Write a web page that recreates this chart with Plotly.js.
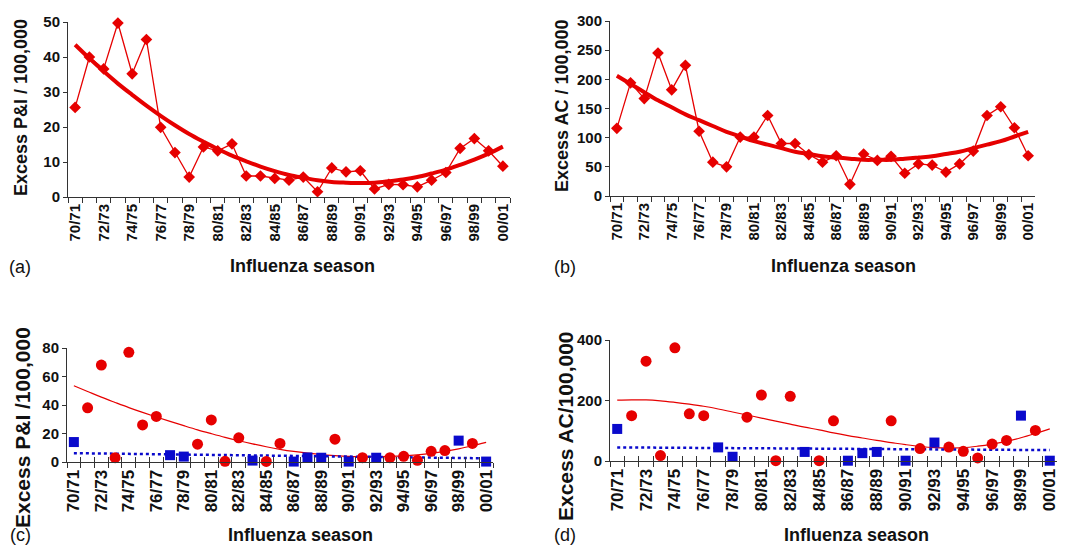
<!DOCTYPE html>
<html>
<head>
<meta charset="utf-8">
<script src="https://cdn.plot.ly/plotly-3.0.1.min.js"></script>
<style>html,body{margin:0;padding:0;background:#fff;}#chart{width:1066px;height:546px;}</style>
</head>
<body>
<div id="chart"></div>
<script>
// ---- data ----
var seasons = ["70/71","71/72","72/73","73/74","74/75","75/76","76/77","77/78","78/79","79/80",
  "80/81","81/82","82/83","83/84","84/85","85/86","86/87","87/88","88/89","89/90",
  "90/91","91/92","92/93","93/94","94/95","95/96","96/97","97/98","98/99","99/00","00/01"];

// (a) excess P&I per 100,000 and fitted trend
var piA = [25.6,40.0,36.6,49.7,35.2,45.0,19.9,12.7,5.7,14.3,13.2,15.2,6.0,6.0,5.3,4.8,5.7,1.5,8.3,7.2,7.5,2.3,3.6,3.5,2.9,4.8,7.0,13.9,16.7,13.2,8.8];
var piATrend = [43.5,39.6,35.9,32.4,29.2,26.1,23.2,20.5,18.0,15.8,13.7,11.8,10.2,8.7,7.4,6.3,5.5,4.8,4.3,4.1,4.0,4.1,4.5,5.0,5.7,6.7,7.8,9.2,10.7,12.4,14.4];

// (b) excess all-cause per 100,000 and fitted trend
var acB = [116,194,167,245,182,224,111,58,50,101,101,138,90,90,71,58,69,20,72,61,68,39,55,53,41,55,77,138,153,117,69];
var acBTrend = [206,192,178,164,152,140,130,120,110,102,94,88,82,76,72,68,66,64,62,62,62,64,66,68,72,76,82,88,94,102,110];

// (c) excess P&I split into two groups of seasons (red circles / blue squares)
var piCRed = [null,38,68,3,77,26,32,null,null,12.5,29.5,0.5,17,null,0.4,13,null,null,null,16,null,3,null,3,4,1.2,7.5,8,null,13,null];
var piCBlue = [14,null,null,null,null,null,null,4.8,3.8,null,null,null,null,1,null,null,0.3,3.2,3,null,0.3,null,3,null,null,null,null,null,15,null,0.3];
var piCRedTrend = [53.5,49.5,45.5,41.8,38.2,34.8,31.6,28.5,25.5,22.6,19.9,17.3,14.9,12.7,10.7,8.9,7.4,6.2,5.2,4.5,4.0,3.8,3.7,3.9,4.3,5.0,6.0,7.4,9.2,11.4,13.8];
var piCBlueTrendX = ["70/71","00/01"];
var piCBlueTrend = [6.2,2.6];

// (d) excess all-cause split into the same two groups
var acDRed = [null,150,330,18,374,156,150,null,null,145,218,1,214,null,1,133,null,null,null,133,null,41,null,46,32,10,56,68,null,101,null];
var acDBlue = [106,null,null,null,null,null,null,45,14,null,null,null,null,30,null,null,1,26,30,null,1,null,61,null,null,null,null,null,150,null,1];
var acDRedTrend = [201,202,202,199,194,188,181,172,162,152,142,132,122,112,103,93,84,76,68,61,54,48,44,43,44,49,56,65,77,91,106];
var acDBlueTrendX = ["70/71","00/01"];
var acDBlueTrend = [45,36];

// ---- style ----
var RED = '#e60000', BLUE = '#0a0acc', AX = '#333333';
var FONT = 'Liberation Sans, Arial, sans-serif';
var W = 1066, H = 546;
function px(x){return x/W;}
function py(y){return 1-y/H;}

var tickText = seasons.map(function(s,i){return i%2===0 ? s : '';});

function xAxis(d0,d1,anchor,tsize,ticks){
  return {domain:[px(d0),Math.min(1,px(d1))], anchor:anchor, type:'category',
    range:[-0.5,30.5], tickmode:'array', tickvals:seasons, ticktext:tickText,
    tickson:'boundaries', ticks:ticks, ticklen:5, tickwidth:1, tickcolor:AX,
    tickangle:-90, showline:true, linecolor:AX, linewidth:1, showgrid:false, zeroline:false,
    tickfont:{family:FONT, size:tsize, color:'#111', weight:'bold'}, fixedrange:true};
}
function yAxis(top,bot,anchor,maxv,dt){
  return {domain:[py(bot),py(top)], anchor:anchor, range:[0,maxv], dtick:dt, tick0:0,
    ticks:'outside', ticklen:4, tickwidth:1, tickcolor:AX,
    showline:true, linecolor:AX, linewidth:1, showgrid:false, zeroline:false,
    tickfont:{family:FONT, size:15, color:'#111', weight:'bold'}, fixedrange:true};
}
function overlayX(over,anchor){
  return {overlaying:over, anchor:anchor, type:'category', range:[-0.5,30.5],
    tickmode:'array', tickvals:seasons, ticktext:seasons.map(function(){return '';}),
    tickson:'boundaries', ticks:'inside', ticklen:5, tickwidth:1, tickcolor:AX,
    showticklabels:false, showline:false, showgrid:false, zeroline:false, fixedrange:true};
}

var traces = [
  // (a)
  {x:seasons, y:piATrend, xaxis:'x', yaxis:'y', mode:'lines', line:{color:RED,width:4,shape:'spline'}, hoverinfo:'skip'},
  {x:seasons, y:piA, xaxis:'x', yaxis:'y', mode:'lines+markers', line:{color:RED,width:1.3},
    marker:{symbol:'diamond', size:9, color:RED}, cliponaxis:false},
  // (b)
  {x:seasons, y:acBTrend, xaxis:'x2', yaxis:'y2', mode:'lines', line:{color:RED,width:4,shape:'spline'}, hoverinfo:'skip'},
  {x:seasons, y:acB, xaxis:'x2', yaxis:'y2', mode:'lines+markers', line:{color:RED,width:1.3},
    marker:{symbol:'diamond', size:9, color:RED}, cliponaxis:false},
  // (c)
  {x:seasons, y:piCRedTrend, xaxis:'x3', yaxis:'y3', mode:'lines', line:{color:RED,width:1.2,shape:'spline'}, hoverinfo:'skip'},
  {x:piCBlueTrendX, y:piCBlueTrend, xaxis:'x3', yaxis:'y3', mode:'lines', line:{color:BLUE,width:2.5,dash:'dot'}, hoverinfo:'skip'},
  {x:seasons, y:piCBlue, xaxis:'x3', yaxis:'y3', mode:'markers', marker:{symbol:'square', size:10, color:BLUE}, cliponaxis:false},
  {x:seasons, y:piCRed, xaxis:'x3', yaxis:'y3', mode:'markers', marker:{symbol:'circle', size:11, color:RED}, cliponaxis:false},
  // (d)
  {x:seasons, y:acDRedTrend, xaxis:'x4', yaxis:'y4', mode:'lines', line:{color:RED,width:1.2,shape:'spline'}, hoverinfo:'skip'},
  {x:acDBlueTrendX, y:acDBlueTrend, xaxis:'x4', yaxis:'y4', mode:'lines', line:{color:BLUE,width:2.5,dash:'dot'}, hoverinfo:'skip'},
  {x:seasons, y:acDBlue, xaxis:'x4', yaxis:'y4', mode:'markers', marker:{symbol:'square', size:10, color:BLUE}, cliponaxis:false},
  {x:seasons, y:acDRed, xaxis:'x4', yaxis:'y4', mode:'markers', marker:{symbol:'circle', size:11, color:RED}, cliponaxis:false},
  // carriers for inside tick overlays (no visible marks)
  {x:seasons, y:seasons.map(function(){return null;}), xaxis:'x5', yaxis:'y3', mode:'markers', hoverinfo:'skip'},
  {x:seasons, y:seasons.map(function(){return null;}), xaxis:'x6', yaxis:'y4', mode:'markers', hoverinfo:'skip'}
];

function ann(text,x,y,size,bold,angle){
  return {text:text, xref:'paper', yref:'paper', x:px(x), y:py(y), xanchor:'center', yanchor:'middle',
    showarrow:false, textangle:angle||0,
    font:{family:FONT, size:size, color:'#111', weight: bold?'bold':'normal'}};
}

var layout = {
  width:W, height:H, margin:{l:0,r:0,t:0,b:0}, paper_bgcolor:'#fff', plot_bgcolor:'rgba(0,0,0,0)',
  showlegend:false, font:{family:FONT},
  xaxis: xAxis(68,510,'y',15,'outside'),
  yaxis: yAxis(22,197,'x',50,10),
  xaxis2: xAxis(610,1035,'y2',15,'outside'),
  yaxis2: yAxis(21,196,'x2',300,50),
  xaxis3: xAxis(67,493,'y3',17,'outside'),
  yaxis3: yAxis(348,462,'x3',80,20),
  xaxis4: xAxis(610,1057,'y4',17,'outside'),
  yaxis4: yAxis(340,461,'x4',400,200),
  xaxis5: overlayX('x3','y3'),
  xaxis6: overlayX('x4','y4'),
  annotations:[
    ann('(a)',20,267,18,false), ann('(b)',565,267,18,false),
    ann('(c)',20,535,18,false), ann('(d)',565,535,18,false),
    ann('Influenza season',302,266,18,true), ann('Influenza season',843,266,18,true),
    ann('Influenza season',300,535,18,true), ann('Influenza season',856,535,18,true),
    ann('Excess P&amp;I / 100,000',21,108,18,true,-90),
    ann('Excess AC / 100,000',562,106,18,true,-90),
    ann('Excess P&amp;I /100,000',22,428,21,true,-90),
    ann('Excess AC/100,000',565,426,21,true,-90)
  ]
};

Plotly.newPlot('chart', traces, layout, {staticPlot:true, displayModeBar:false});
</script>
</body>
</html>
